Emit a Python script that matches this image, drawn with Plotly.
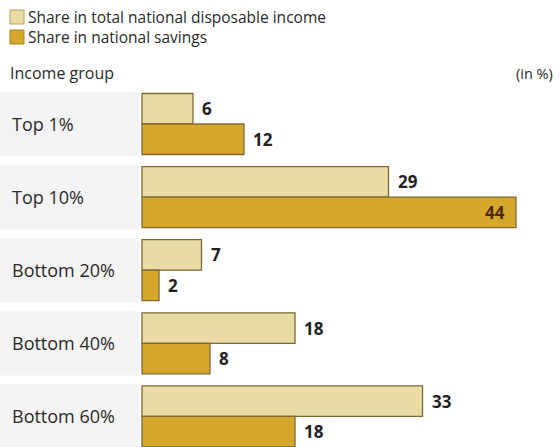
import plotly.graph_objects as go

# Data
groups = ["Top 1%", "Top 10%", "Bottom 20%", "Bottom 40%", "Bottom 60%"]
income_share = [6, 29, 7, 18, 33]
savings_share = [12, 44, 2, 8, 18]
series_names = ["Share in total national disposable income", "Share in national savings"]

W, H = 560, 447
FONT = "Open Sans"
INCOME_FILL = "#ebdba4"
SAVINGS_FILL = "#d7a72c"
EDGE = "#7d6a33"
BAND = "#f4f4f4"

px_per_unit = 8.5          # horizontal scale
bar_origin_px = 142        # left edge of bars
group_pitch_px = 73.1      # vertical distance between groups
first_center_px = 124      # centre of the first group
bargap = 0.166

x_min = -bar_origin_px / px_per_unit
x_max = (W - bar_origin_px) / px_per_unit
y_top = -first_center_px / group_pitch_px
y_bot = y_top + H / group_pitch_px

idx = list(range(len(groups)))

fig = go.Figure()
fig.add_trace(go.Bar(
    y=idx, x=income_share, orientation="h", name=series_names[0],
    marker=dict(color=INCOME_FILL, line=dict(color=EDGE, width=1.3)),
    hoverinfo="skip",
))
fig.add_trace(go.Bar(
    y=idx, x=savings_share, orientation="h", name=series_names[1],
    marker=dict(color=SAVINGS_FILL, line=dict(color=EDGE, width=1.3)),
    hoverinfo="skip",
))

bar_w = (1 - bargap) / 2
shapes = []
annotations = []

# Grey bands behind each group label
for i in idx:
    shapes.append(dict(
        type="rect", xref="x", yref="y", layer="below",
        x0=x_min, x1=-0.3, y0=i - 0.44, y1=i + 0.44,
        fillcolor=BAND, line=dict(width=0),
    ))
    annotations.append(dict(
        xref="paper", yref="y", x=10 / W, y=i, xanchor="left", yanchor="middle",
        text=groups[i], showarrow=False,
        font=dict(family=FONT, size=18, color="#2a2a2a"),
    ))

# Value labels
label_font = dict(family=FONT, size=17, color="#222222", weight="bold")
for i in idx:
    for vals, off in ((income_share, -bar_w / 2), (savings_share, bar_w / 2)):
        v = vals[i]
        inside = v * px_per_unit > 300
        annotations.append(dict(
            xref="x", yref="y", x=v, y=i + off,
            xanchor="right" if inside else "left", yanchor="middle",
            xshift=-9 if inside else 7,
            text=str(v), showarrow=False,
            font=dict(label_font, color="#4b2a0e" if inside else "#222222"),
        ))

# Legend keys
def px_x(p):
    return p / W

def px_y(p):
    return 1 - p / H

for (y0, y1), fill, edge, name in (
    ((10, 24), INCOME_FILL, "#b3a362", series_names[0]),
    ((30, 44), SAVINGS_FILL, "#a6801f", series_names[1]),
):
    shapes.append(dict(
        type="rect", xref="paper", yref="paper",
        x0=px_x(10), x1=px_x(24), y0=px_y(y1), y1=px_y(y0),
        fillcolor=fill, line=dict(color=edge, width=1),
    ))
    annotations.append(dict(
        xref="paper", yref="paper", x=px_x(26), y=px_y((y0 + y1) / 2),
        xanchor="left", yanchor="middle", text=name, showarrow=False,
        font=dict(family=FONT, size=15.5, color="#2a2a2a"),
    ))

annotations.append(dict(
    xref="paper", yref="paper", x=px_x(8), y=px_y(73),
    xanchor="left", yanchor="middle", text="Income group", showarrow=False,
    font=dict(family=FONT, size=16, color="#2a2a2a"),
))
annotations.append(dict(
    xref="paper", yref="paper", x=px_x(555), y=px_y(73),
    xanchor="right", yanchor="middle", text="(in %)", showarrow=False,
    font=dict(family=FONT, size=14.5, color="#2a2a2a"),
))

fig.update_layout(
    width=W, height=H,
    margin=dict(l=0, r=0, t=0, b=0),
    paper_bgcolor="white", plot_bgcolor="white",
    barmode="group", bargap=bargap, bargroupgap=0,
    showlegend=False,
    xaxis=dict(range=[x_min, x_max], visible=False, fixedrange=True),
    yaxis=dict(range=[y_bot, y_top], visible=False, fixedrange=True),
    shapes=shapes, annotations=annotations,
)

fig.write_html("out.html")
